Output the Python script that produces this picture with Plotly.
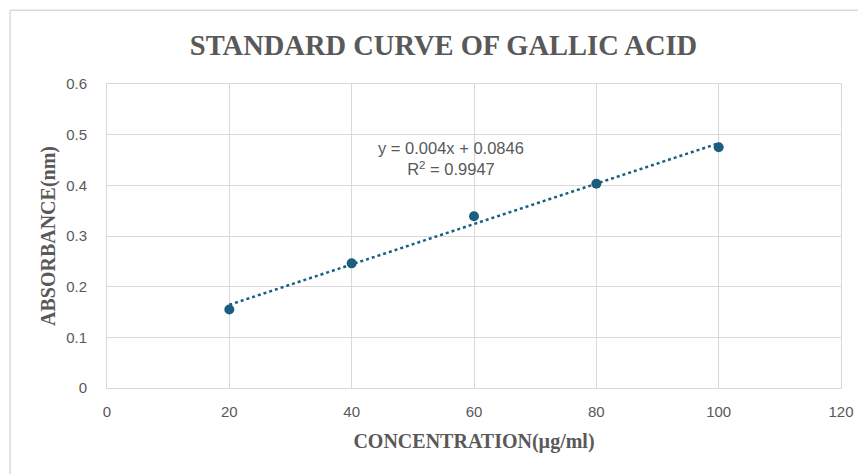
import numpy as np
import plotly.graph_objects as go

concentration = [20, 40, 60, 80, 100]
absorbance = [0.155, 0.246, 0.339, 0.403, 0.475]
x_ticks = [0, 20, 40, 60, 80, 100, 120]
y_ticks = [0, 0.1, 0.2, 0.3, 0.4, 0.5, 0.6]
equation_text = "y = 0.004x + 0.0846<br>R<sup>2</sup> = 0.9947"

color = "#1a5f80"
gray = "#595959"
grid = "#d9d9d9"

slope, intercept = np.polyfit(concentration, absorbance, 1)
fit_x = [min(concentration), max(concentration)]
fit_y = [slope * v + intercept for v in fit_x]

fig = go.Figure()
fig.add_trace(go.Scatter(x=fit_x, y=fit_y, mode="lines",
                         line=dict(color=color, width=2.5, dash="dot"),
                         hoverinfo="skip", showlegend=False))
fig.add_trace(go.Scatter(x=concentration, y=absorbance, mode="markers",
                         marker=dict(color=color, size=10),
                         showlegend=False))

fig.add_annotation(x=56.2, y=0.452, xref="x", yref="y", text=equation_text,
                   showarrow=False, align="center",
                   font=dict(family="Liberation Sans, Arial", size=16.5, color=gray))

# outer chart border (top and left visible)
fig.add_shape(type="line", xref="paper", yref="paper", x0=-0.132, x1=1.2,
              y0=1.243, y1=1.243, line=dict(color=grid, width=1.5))
fig.add_shape(type="line", xref="paper", yref="paper", x0=-0.132, x1=-0.132,
              y0=-0.5, y1=1.243, line=dict(color=grid, width=1.5))

fig.update_layout(
    width=858, height=466,
    margin=dict(l=99, r=25, t=76, b=86),
    paper_bgcolor="white", plot_bgcolor="white",
    title=dict(text="<b>STANDARD CURVE OF GALLIC ACID</b>", x=0.5076, xanchor="center",
               y=0.9206, yanchor="middle", automargin=False,
               font=dict(family="Liberation Serif, Times New Roman", size=28.5, color=gray)),
    xaxis=dict(range=[0, 120], tickvals=x_ticks, showgrid=True, gridcolor=grid,
               showline=True, linecolor=grid, mirror=True, zeroline=False,
               ticks="", ticklabelstandoff=10, automargin=False,
               tickfont=dict(family="Liberation Sans, Arial", size=15, color=gray),
               title=dict(text="<b>CONCENTRATION(µg/ml)</b>", standoff=14,
                          font=dict(family="Liberation Serif, Times New Roman", size=20, color=gray))),
    yaxis=dict(range=[0, 0.6], tickvals=y_ticks, showgrid=True, gridcolor=grid,
               showline=True, linecolor=grid, mirror=True, zeroline=False,
               ticks="", ticklabelstandoff=16, automargin=False,
               tickfont=dict(family="Liberation Sans, Arial", size=15, color=gray),
               title=dict(text="<b>ABSORBANCE(nm)</b>", standoff=5,
                          font=dict(family="Liberation Serif, Times New Roman", size=20, color=gray))),
)

fig.write_html("out.html")
